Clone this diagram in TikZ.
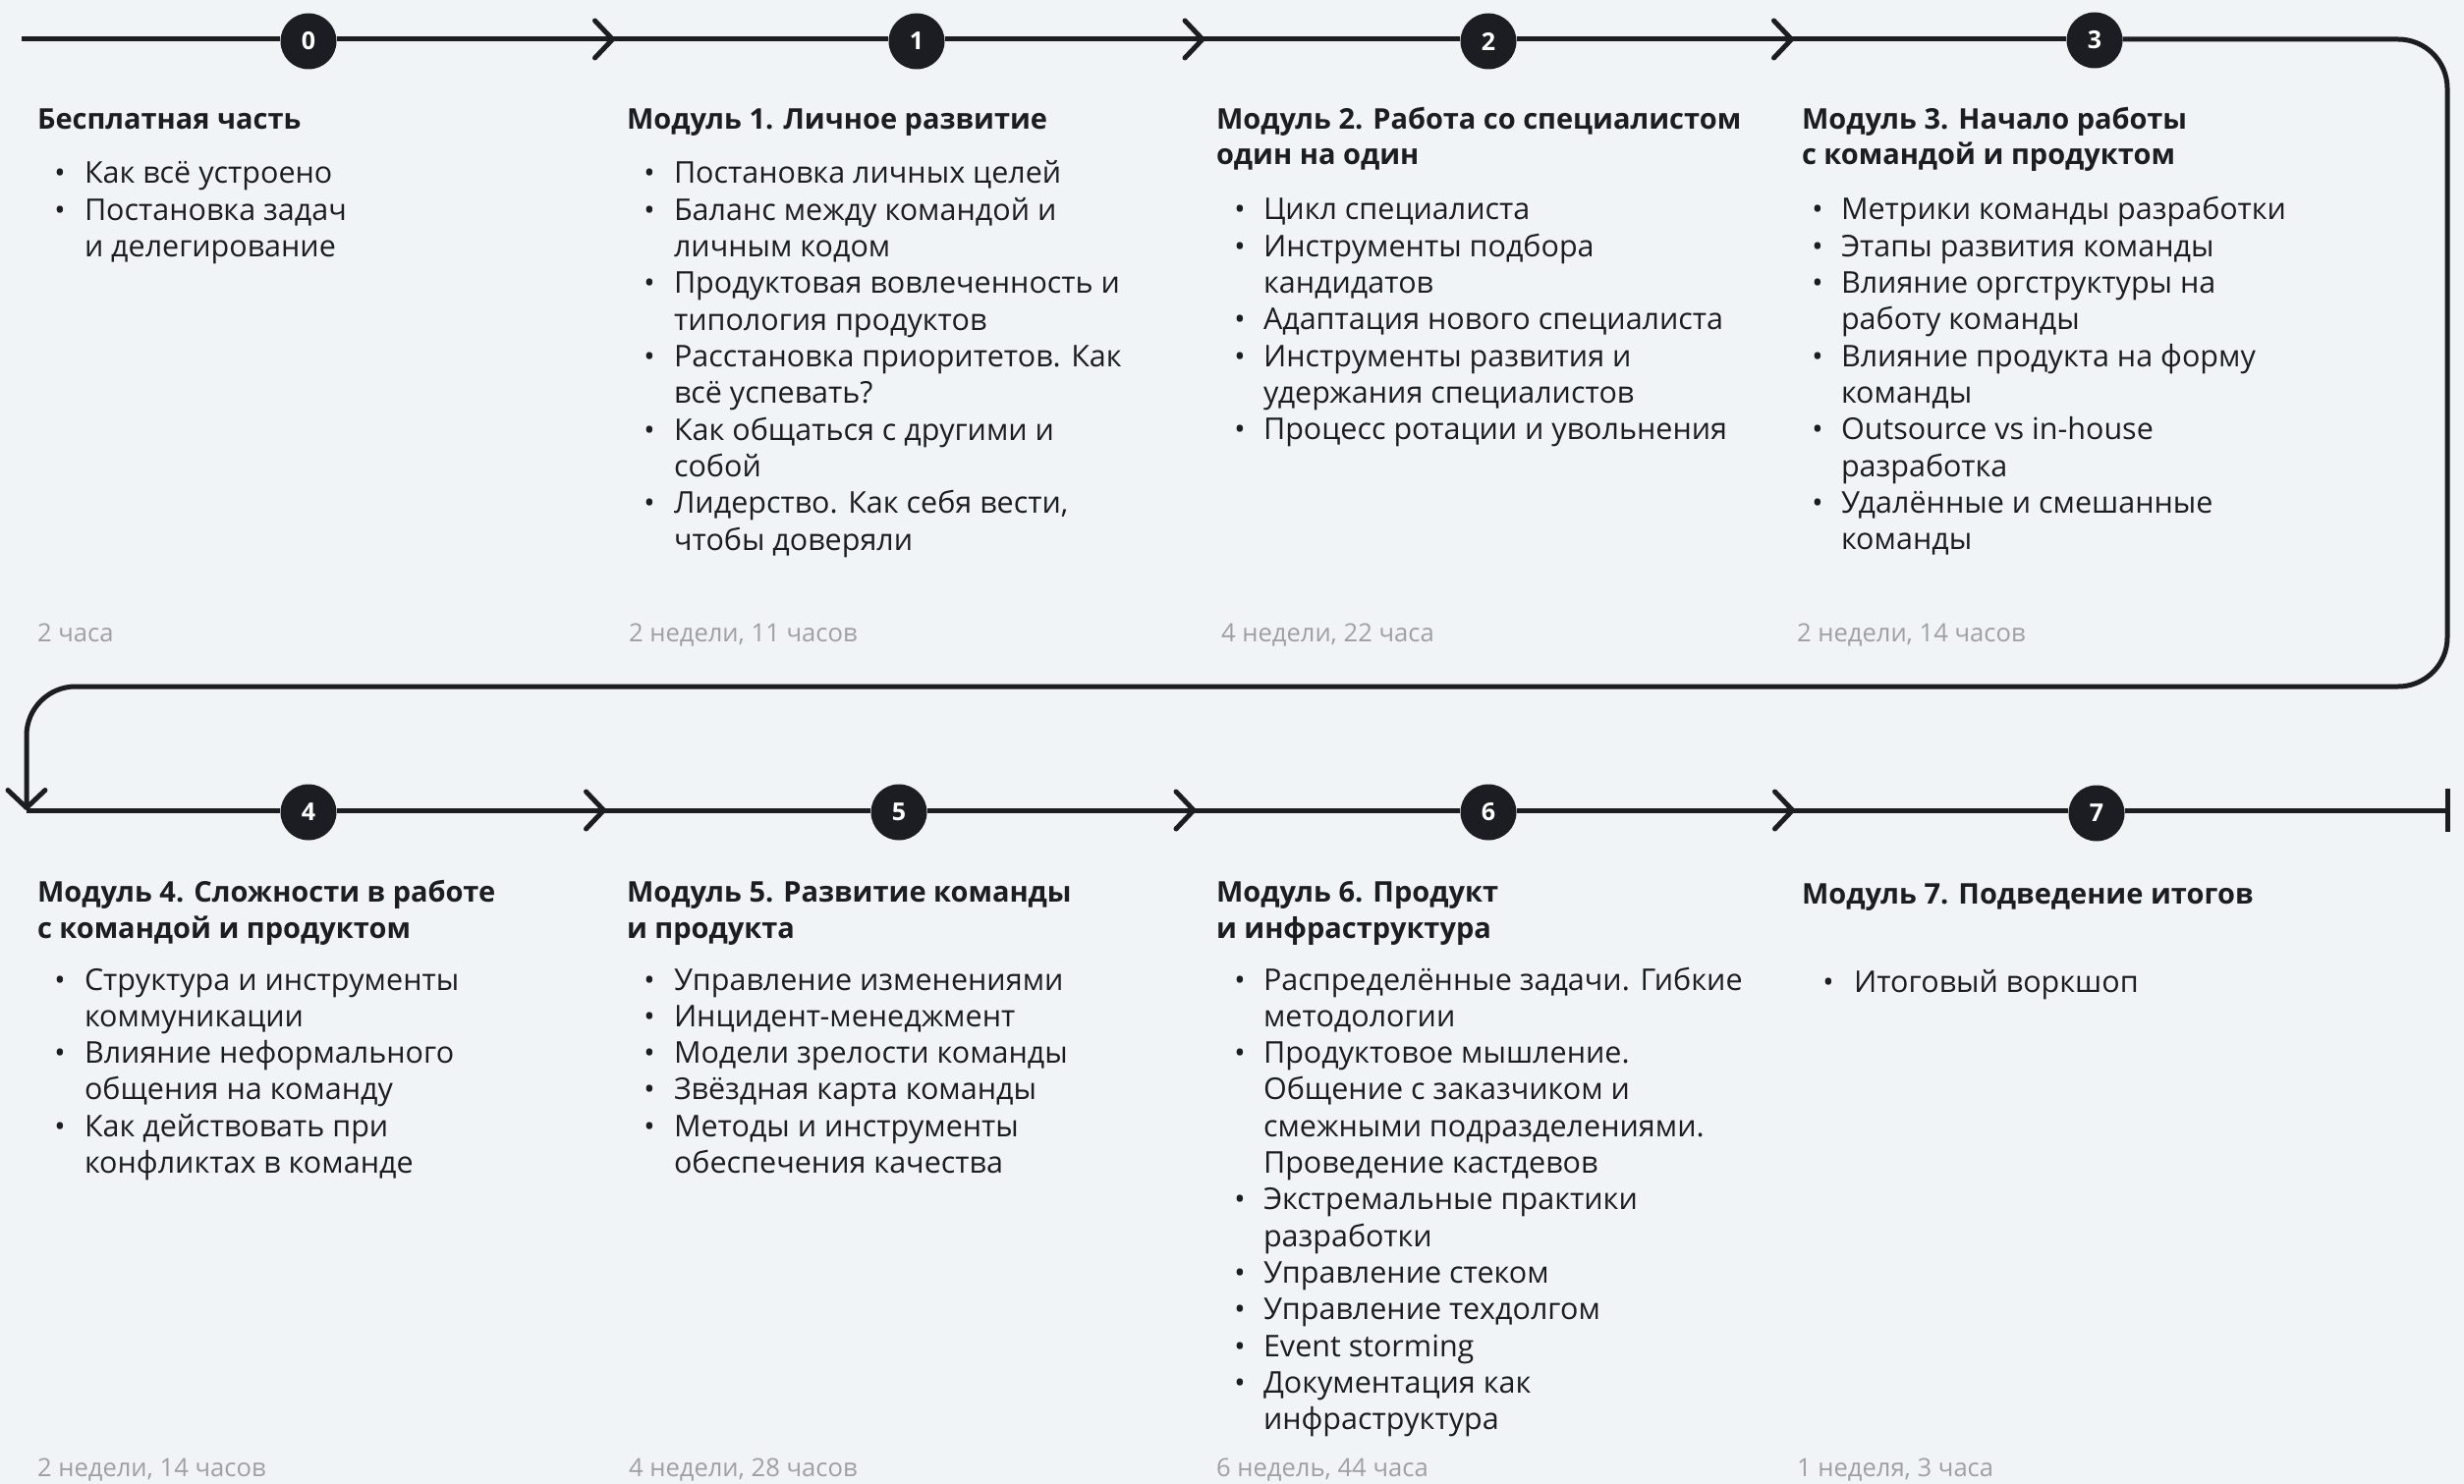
\documentclass[tikz,border=0pt]{standalone}
\usepackage{fontspec}
\setmainfont{Open Sans}
\usetikzlibrary{arrows.meta,decorations.markings}
\definecolor{bg}{HTML}{F0F4F7}
\definecolor{ink}{HTML}{1C1D22}
\definecolor{muted}{HTML}{A0A0A0}
\tikzset{
 txt/.style={anchor=base west, inner sep=0pt, outer sep=0pt, text=ink, font=\fontsize{30.5}{36}\selectfont},
 head/.style={anchor=base west, inner sep=0pt, outer sep=0pt, text=ink, font=\fontsize{29}{36}\selectfont\bfseries},
 dur/.style={anchor=base west, inner sep=0pt, outer sep=0pt, text=muted, font=\fontsize{25.6}{30}\selectfont},
 bul/.style={anchor=base, inner sep=0pt, outer sep=0pt, text=ink, font=\fontsize{30}{36}\selectfont},
 num/.style={circle, fill=ink, text=white, minimum size=57pt, inner sep=0pt, font=\fontsize{25}{30}\selectfont\bfseries},
 track/.style={draw=ink, line width=5pt},
 chev/.style={postaction={decorate}, decoration={markings, mark=at position 0.5 with {\draw[ink, line width=5pt, line cap=round, line join=round] (-18pt,19pt) -- (0pt,0pt) -- (-18pt,-19pt);}}},
}
\newcommand\myBul[5]{\node[bul] (#1d) at (#2,#4) {•};\node[txt] (#1) at (#3,#4) {#5};}
\newcommand\myCont[4]{\node[txt] (#1) at (#2,#3) {#4};}
\begin{document}
\begin{tikzpicture}[x=1pt,y=-1pt]
\fill[bg] (0,0) rectangle (2508,1511);
\useasboundingbox (0,0) rectangle (2508,1511);
% circles
\node[num] (c0) at (314,42) {0};
\node[num] (c1) at (933,42) {1};
\node[num] (c2) at (1515,42) {2};
\node[num] (c3) at (2132,41) {3};
\node[num] (c4) at (314,827) {4};
\node[num] (c5) at (915,827) {5};
\node[num] (c6) at (1515,827) {6};
\node[num] (c7) at (2134,828) {7};
% track coordinates
\coordinate (s) at (22,40);
\coordinate (tr) at (2491,40);
\coordinate (rr) at (2491,699);
\coordinate (ll) at (27,699);
\coordinate (bl) at (27,825);
\coordinate (e) at (2491,825);
\coordinate (eT) at (2491,803);
\coordinate (eB) at (2491,847);
\draw[track] (s) -- (c0.west |- s);
\draw[track,chev] (c0.east |- s) -- (c1.west |- s);
\draw[track,chev] (c1.east |- s) -- (c2.west |- s);
\draw[track,chev] (c2.east |- s) -- (c3.west |- s);
\draw[track, rounded corners=50pt, -{Straight Barb[length=18pt,width=38pt,line cap=round,line join=round]}] (c3.east |- s) -- (tr) -- (rr) -- (ll) -- (bl);
\draw[track] (bl) -- (c4.west |- bl);
\draw[track,chev] (c4.east |- bl) -- (c5.west |- bl);
\draw[track,chev] (c5.east |- bl) -- (c6.west |- bl);
\draw[track,chev] (c6.east |- bl) -- (c7.west |- bl);
\draw[track] (c7.east |- bl) -- (e);
\draw[track] (eT) -- (eB);

% ---- column 0
\node[head] (h0) at (38,132) {Бесплатная часть};
\myBul{a0}{61}{86}{187}{Как всё устроено}
\myBul{a1}{61}{86}{{187+1*37.3}}{Постановка задач}
\myCont{a2}{86}{{187+2*37.3}}{и делегирование}
\node[dur] (d0) at (38,653) {2 часа};

% ---- column 1
\node[head] (h1) at (638,132) {Модуль 1. Личное развитие};
\myBul{b0}{661}{686}{187}{Постановка личных целей}
\myBul{b1}{661}{686}{{187+1*37.3}}{Баланс между командой и}
\myCont{b2}{686}{{187+2*37.3}}{личным кодом}
\myBul{b3}{661}{686}{{187+3*37.3}}{Продуктовая вовлеченность и}
\myCont{b4}{686}{{187+4*37.3}}{типология продуктов}
\myBul{b5}{661}{686}{{187+5*37.3}}{Расстановка приоритетов. Как}
\myCont{b6}{686}{{187+6*37.3}}{всё успевать?}
\myBul{b7}{661}{686}{{187+7*37.3}}{Как общаться с другими и}
\myCont{b8}{686}{{187+8*37.3}}{собой}
\myBul{b9}{661}{686}{{187+9*37.3}}{Лидерство. Как себя вести,}
\myCont{b10}{686}{{187+10*37.3}}{чтобы доверяли}
\node[dur] (d1) at (640,653) {2 недели, 11 часов};

% ---- column 2
\node[head] (h2) at (1238,132) {Модуль 2. Работа со специалистом};
\node[head] (h2b) at (1238,168) {один на один};
\myBul{c0t}{1262}{1286}{224}{Цикл специалиста}
\myBul{c1t}{1262}{1286}{{224+1*37.3}}{Инструменты подбора}
\myCont{c2t}{1286}{{224+2*37.3}}{кандидатов}
\myBul{c3t}{1262}{1286}{{224+3*37.3}}{Адаптация нового специалиста}
\myBul{c4t}{1262}{1286}{{224+4*37.3}}{Инструменты развития и}
\myCont{c5t}{1286}{{224+5*37.3}}{удержания специалистов}
\myBul{c6t}{1262}{1286}{{224+6*37.3}}{Процесс ротации и увольнения}
\node[dur] (d2) at (1243,653) {4 недели, 22 часа};

% ---- column 3
\node[head] (h3) at (1834,132) {Модуль 3. Начало работы};
\node[head] (h3b) at (1834,168) {с командой и продуктом};
\myBul{e0}{1850}{1874}{224}{Метрики команды разработки}
\myBul{e1}{1850}{1874}{{224+1*37.3}}{Этапы развития команды}
\myBul{e2}{1850}{1874}{{224+2*37.3}}{Влияние оргструктуры на}
\myCont{e3}{1874}{{224+3*37.3}}{работу команды}
\myBul{e4}{1850}{1874}{{224+4*37.3}}{Влияние продукта на форму}
\myCont{e5}{1874}{{224+5*37.3}}{команды}
\myBul{e6}{1850}{1874}{{224+6*37.3}}{Outsource vs in-house}
\myCont{e7}{1874}{{224+7*37.3}}{разработка}
\myBul{e8}{1850}{1874}{{224+8*37.3}}{Удалённые и смешанные}
\myCont{e9}{1874}{{224+9*37.3}}{команды}
\node[dur] (d3) at (1829,653) {2 недели, 14 часов};

% ---- column 4
\node[head] (h4) at (38,918) {Модуль 4. Сложности в работе};
\node[head] (h4b) at (38,955) {с командой и продуктом};
\myBul{f0}{61}{86}{1008}{Структура и инструменты}
\myCont{f1}{86}{{1008+1*37.3}}{коммуникации}
\myBul{f2}{61}{86}{{1008+2*37.3}}{Влияние неформального}
\myCont{f3}{86}{{1008+3*37.3}}{общения на команду}
\myBul{f4}{61}{86}{{1008+4*37.3}}{Как действовать при}
\myCont{f5}{86}{{1008+5*37.3}}{конфликтах в команде}
\node[dur] (d4) at (38,1503) {2 недели, 14 часов};

% ---- column 5
\node[head] (h5) at (638,918) {Модуль 5. Развитие команды};
\node[head] (h5b) at (638,955) {и продукта};
\myBul{g0}{661}{686}{1008}{Управление изменениями}
\myBul{g1}{661}{686}{{1008+1*37.3}}{Инцидент-менеджмент}
\myBul{g2}{661}{686}{{1008+2*37.3}}{Модели зрелости команды}
\myBul{g3}{661}{686}{{1008+3*37.3}}{Звёздная карта команды}
\myBul{g4}{661}{686}{{1008+4*37.3}}{Методы и инструменты}
\myCont{g5}{686}{{1008+5*37.3}}{обеспечения качества}
\node[dur] (d5) at (640,1503) {4 недели, 28 часов};

% ---- column 6
\node[head] (h6) at (1238,918) {Модуль 6. Продукт};
\node[head] (h6b) at (1238,955) {и инфраструктура};
\myBul{k0}{1262}{1286}{1008}{Распределённые задачи. Гибкие}
\myCont{k1}{1286}{{1008+1*37.3}}{методологии}
\myBul{k2}{1262}{1286}{{1008+2*37.3}}{Продуктовое мышление.}
\myCont{k3}{1286}{{1008+3*37.3}}{Общение с заказчиком и}
\myCont{k4}{1286}{{1008+4*37.3}}{смежными подразделениями.}
\myCont{k5}{1286}{{1008+5*37.3}}{Проведение кастдевов}
\myBul{k6}{1262}{1286}{{1008+6*37.3}}{Экстремальные практики}
\myCont{k7}{1286}{{1008+7*37.3}}{разработки}
\myBul{k8}{1262}{1286}{{1008+8*37.3}}{Управление стеком}
\myBul{k9}{1262}{1286}{{1008+9*37.3}}{Управление техдолгом}
\myBul{k10}{1262}{1286}{{1008+10*37.3}}{Event storming}
\myBul{k11}{1262}{1286}{{1008+11*37.3}}{Документация как}
\myCont{k12}{1286}{{1008+12*37.3}}{инфраструктура}
\node[dur] (d6) at (1238,1503) {6 недель, 44 часа};

% ---- column 7
\node[head] (h7) at (1834,920) {Модуль 7. Подведение итогов};
\myBul{m0}{1861}{1887}{1010}{Итоговый воркшоп}
\node[dur] (d7) at (1829,1503) {1 неделя, 3 часа};
\end{tikzpicture}
\end{document}
